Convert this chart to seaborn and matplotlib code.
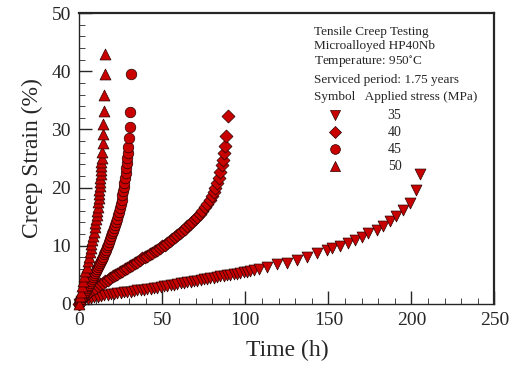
import pandas as pd
import seaborn as sns
import matplotlib.pyplot as plt
from matplotlib.ticker import MultipleLocator

# Creep curves: time (h) and strain (%) per applied stress
t35 = [0, 1, 2, 3, 5, 7, 9, 11, 13, 15,
       17, 19, 21, 23, 25, 27, 29, 31, 33, 35,
       37, 39, 41, 43, 45, 47, 49, 51, 53, 55,
       57, 59, 61, 63, 65, 67, 69, 71, 73, 75,
       77, 79, 81, 83, 85, 87, 89, 91, 93, 95,
       97, 99, 101, 103, 105, 108, 113, 119, 125, 131,
       137, 143, 149, 152, 157, 162, 166, 170, 174, 179,
       183, 187, 191, 195, 199, 203, 205]
s35 = [0, 0.4, 0.6, 0.75, 0.9, 1.05, 1.15, 1.25, 1.35, 1.45,
       1.55, 1.65, 1.7, 1.8, 1.85, 1.95, 2.0, 2.1, 2.2, 2.3,
       2.35, 2.45, 2.55, 2.6, 2.7, 2.8, 2.9, 3.0, 3.1, 3.2,
       3.3, 3.4, 3.5, 3.6, 3.7, 3.8, 3.9, 4.0, 4.1, 4.2,
       4.3, 4.4, 4.5, 4.6, 4.7, 4.8, 4.9, 5.0, 5.1, 5.2,
       5.3, 5.4, 5.5, 5.6, 5.75, 6.0, 6.4, 6.8, 7.1, 7.6,
       8.1, 8.8, 9.3, 9.6, 10.0, 10.5, 11.0, 11.5, 12.1, 12.7,
       13.4, 14.2, 15.1, 16.2, 17.4, 19.6, 22.3]

t40 = [0, 1, 2, 3.5, 5, 6.5, 8, 9.5, 11, 12.5,
       14, 15.5, 17, 18.5, 20, 21.5, 23, 24.5, 26, 27.5,
       29, 30.5, 32, 33.5, 35, 36.5, 38, 39.5, 41, 42.5,
       44, 45.5, 47, 48.5, 50, 51.5, 53, 54.5, 56, 57.5,
       59, 60.5, 62, 63.5, 65, 66.5, 68, 69.5, 71, 72.5,
       74, 75.5, 77, 78.5, 80, 81, 82, 83, 84, 85,
       86, 86.7, 87.4, 88, 88.5, 89.5]
s40 = [0, 0.6, 1.0, 1.5, 1.9, 2.2, 2.5, 2.8, 3.1, 3.4,
       3.6, 3.9, 4.1, 4.4, 4.7, 4.9, 5.2, 5.4, 5.7, 6.0,
       6.2, 6.5, 6.7, 7.0, 7.2, 7.5, 7.8, 8.0, 8.3, 8.5,
       8.8, 9.1, 9.3, 9.6, 9.9, 10.2, 10.5, 10.8, 11.1, 11.5,
       11.8, 12.2, 12.5, 12.9, 13.3, 13.7, 14.1, 14.6, 15.0, 15.5,
       16.0, 16.6, 17.2, 17.8, 18.6, 19.2, 19.9, 20.7, 21.6, 22.6,
       23.8, 24.8, 26.0, 27.2, 28.8, 32.3]

t45 = [0, 0.3, 0.6, 1.0, 1.5, 2.0, 2.5, 3.0, 3.6, 4.2,
       4.8, 5.4, 6.0, 6.6, 7.2, 7.8, 8.4, 9.0, 9.6, 10.2,
       10.8, 11.4, 12.0, 12.6, 13.2, 13.8, 14.4, 15.0, 15.6, 16.2,
       16.8, 17.4, 18.0, 18.6, 19.2, 19.8, 20.4, 21.0, 21.6, 22.2,
       22.8, 23.4, 24.0, 24.5, 25.0, 25.5, 26.0, 26.4, 26.8, 27.2,
       27.6, 28.0, 28.3, 28.6, 28.9, 29.2, 29.6, 30.1, 30.4, 30.8,
       31.3]
s45 = [0, 0.35, 0.7, 0.9, 1.1, 1.3, 1.5, 1.8, 2.1, 2.4,
       2.7, 3.0, 3.3, 3.6, 3.9, 4.2, 4.6, 5.0, 5.3, 5.6,
       6.0, 6.3, 6.6, 7.0, 7.3, 7.7, 8.1, 8.5, 8.9, 9.3,
       9.8, 10.2, 10.7, 11.1, 11.6, 12.1, 12.6, 13.0, 13.5, 14.1,
       14.6, 15.2, 15.8, 16.4, 17.2, 17.9, 18.7, 19.4, 20.1, 20.8,
       21.6, 22.5, 23.3, 24.2, 25.0, 25.9, 27.0, 28.6, 30.5, 33.0,
       39.5]

t50 = [0, 0.4, 1.0, 1.6, 2.3, 3.0, 3.7, 4.4, 5.0, 5.6,
       6.2, 6.8, 7.3, 7.8, 8.3, 8.8, 9.2, 9.6, 10.0, 10.4,
       10.7, 11.0, 11.3, 11.6, 11.8, 12.0, 12.2, 12.4, 12.6, 12.8,
       13.0, 13.2, 13.3, 13.4, 13.6, 14.0, 14.2, 14.4, 14.6, 15.0,
       15.2, 15.2]
s50 = [0, 1.3, 2.1, 3.0, 3.9, 4.7, 5.6, 6.4, 7.3, 8.1,
       8.9, 9.6, 10.3, 11.0, 11.7, 12.4, 13.2, 13.9, 14.6, 15.3,
       16.0, 16.7, 17.5, 18.2, 18.9, 19.6, 20.3, 21.0, 21.7, 22.4,
       23.0, 23.7, 24.4, 25.0, 26.2, 27.6, 29.2, 31.0, 33.2, 35.9,
       39.6, 42.9]

stresses = ["35", "40", "45", "50"]
info_lines = ["Tensile Creep Testing", "Microalloyed HP40Nb",
              "Temperature: 950$^{\\circ}$C", "Serviced period: 1.75 years"]

sns.set_style("ticks")
plt.rcParams["font.family"] = ["Liberation Serif", "DejaVu Serif"]
plt.rcParams["mathtext.fontset"] = "stix"

frames = []
for st, t, s in zip(stresses, [t35, t40, t45, t50], [s35, s40, s45, s50]):
    frames.append(pd.DataFrame({"Time": t, "Strain": s, "Stress": st}))
df = pd.concat(frames, ignore_index=True)

marker_map = {"35": "v", "40": "D", "45": "o", "50": "^"}
size_map = {"35": 62, "40": 44, "45": 58, "50": 62}
red = "#c80000"
edge = "#2a0000"

fig = plt.figure(figsize=(5.15, 3.76), dpi=100)
ax = fig.add_axes([0.154, 0.192, 0.806, 0.773])

for st in stresses:
    sub = df[df["Stress"] == st]
    sns.scatterplot(data=sub, x="Time", y="Strain", marker=marker_map[st],
                    s=size_map[st], color=red, edgecolor=edge, linewidth=0.5,
                    legend=False, ax=ax, zorder=3, clip_on=False)

ax.set_xlim(0, 250)
ax.set_ylim(0, 50)
ax.xaxis.set_major_locator(MultipleLocator(50))
ax.xaxis.set_minor_locator(MultipleLocator(10))
ax.yaxis.set_major_locator(MultipleLocator(10))
ax.yaxis.set_minor_locator(MultipleLocator(2))
ax.tick_params(which="both", direction="in", top=False, right=False, labelsize=14, pad=6)
ax.tick_params(which="major", length=9.5, width=1)
ax.tick_params(which="minor", length=4.5, width=0.6)
for side in ["top", "right"]:
    ax.spines[side].set_linewidth(1.6)
for side in ["left", "bottom"]:
    ax.spines[side].set_linewidth(1.0)

ax.set_xlabel("Time (h)", fontsize=17, labelpad=8)
ax.set_ylabel("Creep Strain (%)", fontsize=17, labelpad=6)

# Annotation block standing in for the legend
x_text = 0.566
y_rows = [0.935, 0.888, 0.830, 0.770]
for line, yy in zip(info_lines, y_rows):
    ax.text(x_text, yy, line, transform=ax.transAxes, fontsize=9.5, va="center")
ax.text(x_text, 0.712, "Symbol   Applied stress (MPa)", transform=ax.transAxes,
        fontsize=9.5, va="center")
sym_x = 0.615
num_x = 0.743
sym_y = [0.648, 0.590, 0.531, 0.473]
for st, yy in zip(stresses, sym_y):
    ax.scatter([sym_x], [yy], marker=marker_map[st], s=size_map[st] * 0.85,
               color=red, edgecolor=edge, linewidth=0.5, transform=ax.transAxes, zorder=4)
    ax.text(num_x, yy, st, transform=ax.transAxes, fontsize=10, va="center")

fig.savefig("out.png", dpi=100)
